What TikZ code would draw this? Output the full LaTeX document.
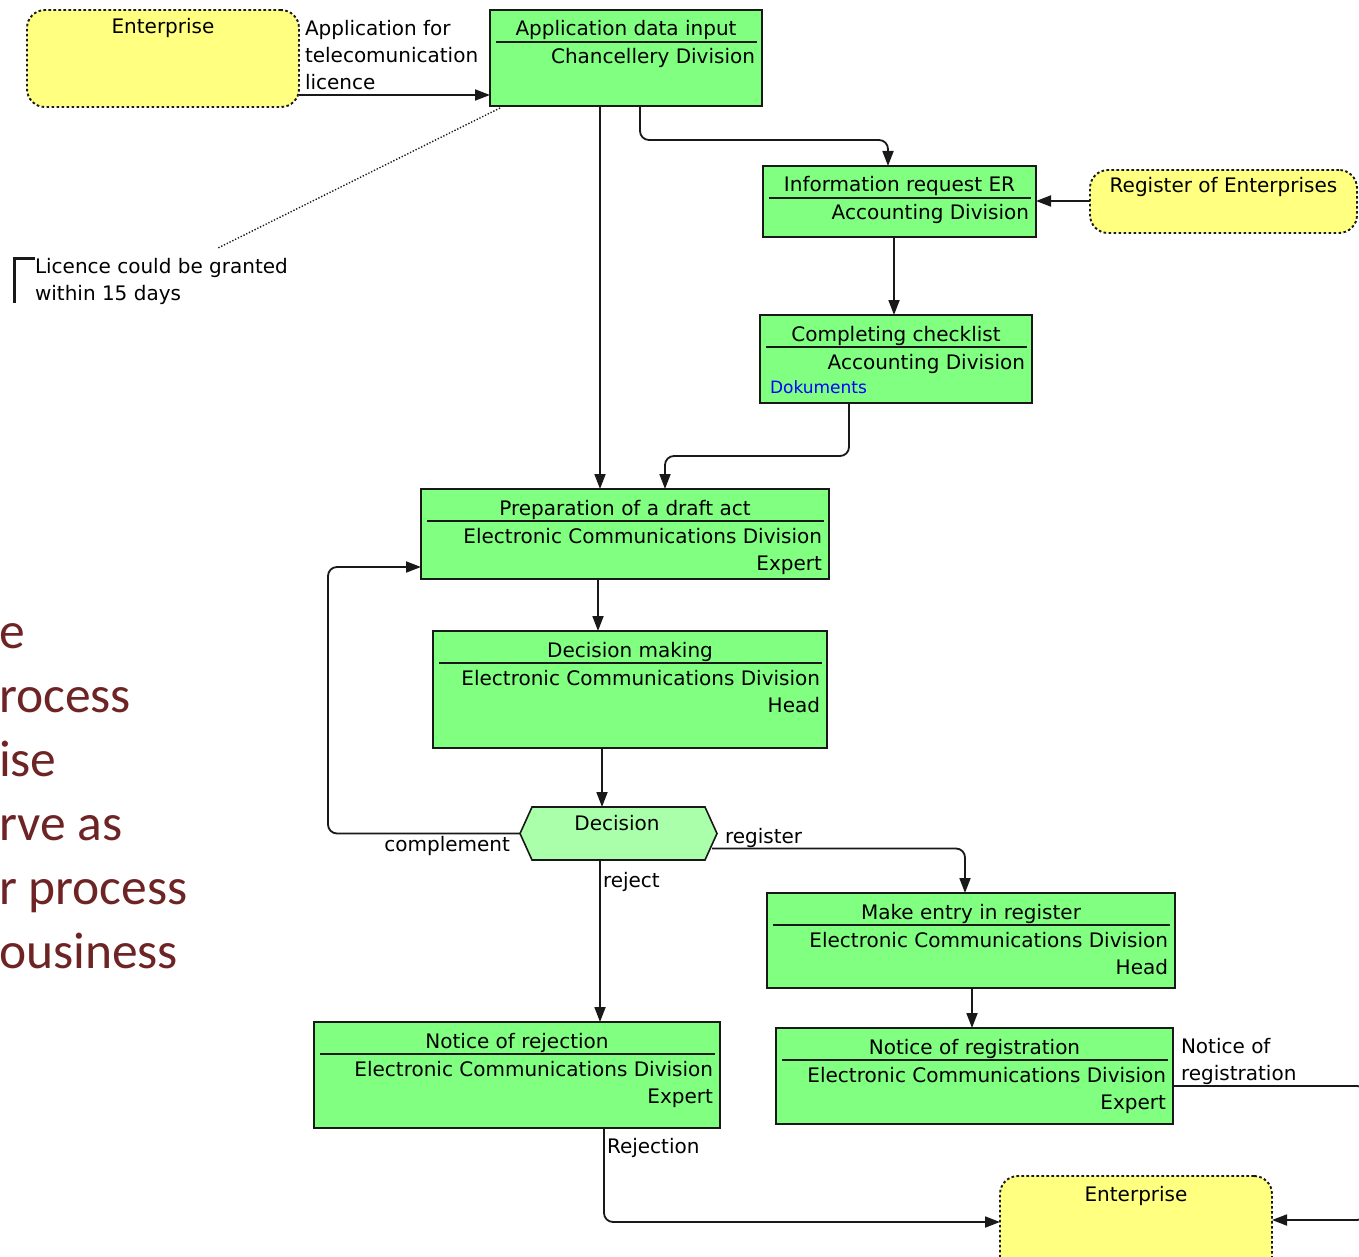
\documentclass[tikz,border=0pt]{standalone}
\usepackage{fontspec}
\setmainfont{DejaVu Sans}
\newfontfamily\slidefont{Carlito}
\usetikzlibrary{arrows.meta,calc}

\definecolor{actgreen}{RGB}{128,255,128}
\definecolor{decgreen}{RGB}{170,255,170}
\definecolor{extyellow}{RGB}{255,255,128}
\definecolor{edgecol}{RGB}{25,25,25}
\definecolor{dokblue}{RGB}{0,0,255}
\definecolor{slidered}{RGB}{110,36,36}

\tikzset{
  txt/.style={inner sep=0pt, outer sep=0pt, font=\fontsize{20}{24}\selectfont, text=black},
  smalltxt/.style={txt, font=\fontsize{17}{20}\selectfont},
  actbox/.style={draw=edgecol, fill=actgreen, line width=1.8pt, inner sep=0pt, outer sep=0pt},
  extbox/.style={draw=edgecol, fill=extyellow, line width=1.9pt, dash pattern=on 2.6pt off 2.4pt,
    rounded corners=18pt, inner sep=0pt, outer sep=0pt},
  decbox/.style={draw=none, inner sep=0pt, outer sep=0pt},
  flow/.style={draw=edgecol, line width=1.8pt, rounded corners=9pt,
    -{Triangle[length=15pt,width=11pt]}},
  titlerule/.style={draw=edgecol, line width=1.5pt},
  slide/.style={inner sep=0pt, outer sep=0pt, text=slidered,
    font=\slidefont\fontsize{51.5}{60}\selectfont},
  notedots/.style={draw=edgecol, line width=1.4pt, dash pattern=on 1.3pt off 1.8pt},
}

% activity box: name, x1, y1, x2, y2, title, unit, role
\newcommand\actnode[8]{%
  \node[actbox, anchor=north west, minimum width={#4-#2}, minimum height={#5-#3}] (#1) at (#2,#3) {};
  \node[txt, anchor=base] at ($(#1.north)+(0,26)$) {#6};
  \draw[titlerule] ($(#1.north west)+(6,32)$) -- ($(#1.north east)+(-5,32)$);
  \node[txt, anchor=base east] at ($(#1.north east)+(-7,54)$) {#7};
  \node[txt, anchor=base east] at ($(#1.north east)+(-7,81)$) {#8};
}

\begin{document}
\begin{tikzpicture}[x=1pt,y=-1pt]
\fill[white] (0,0) rectangle (1359,1257);
\useasboundingbox (0,0) rectangle (1359,1257);
\clip (0,0) rectangle (1359,1257);

% slide text cut by the left margin
\node[slide, anchor=base west] (s1) at (-1,648) {e};
\node[slide, anchor=base west] (s2) at (-1,712) {rocess};
\node[slide, anchor=base west] (s3) at (-1,776) {ise};
\node[slide, anchor=base west] (s4) at (-1,840) {rve as};
\node[slide, anchor=base west] (s5) at (-1,904) {r process};
\node[slide, anchor=base west] (s6) at (-1,968) {ousiness};

% external participants
\node[extbox, anchor=north west, minimum width=272, minimum height=97] (ent1) at (27,10) {};
\node[txt, anchor=base] at ($(ent1.north)+(0,24)$) {Enterprise};
\node[extbox, anchor=north west, minimum width=267, minimum height=63] (reg) at (1090,170) {};
\node[txt, anchor=base] at ($(reg.north)+(0,23)$) {Register of Enterprises};
\node[extbox, anchor=north west, minimum width=272, minimum height=100] (ent2) at (1000,1176) {};
\node[txt, anchor=base] at ($(ent2.north)+(0,25)$) {Enterprise};

% activities
\actnode{app}{490}{10}{762}{106}{Application data input}{Chancellery Division}{}
\actnode{info}{763}{166}{1036}{237}{Information request ER}{Accounting Division}{}
\actnode{chk}{760}{315}{1032}{403}{Completing checklist}{Accounting Division}{}
\node[smalltxt, text=dokblue, anchor=base west] at ($(chk.north west)+(10,78)$) {Dokuments};
\actnode{prep}{421}{489}{829}{579}{Preparation of a draft act}{Electronic Communications Division}{Expert}
\actnode{dmk}{433}{631}{827}{748}{Decision making}{Electronic Communications Division}{Head}
\actnode{mke}{767}{893}{1175}{988}{Make entry in register}{Electronic Communications Division}{Head}
\actnode{nreg}{776}{1028}{1173}{1124}{Notice of registration}{Electronic Communications Division}{Expert}
\actnode{nrej}{314}{1022}{720}{1128}{Notice of rejection}{Electronic Communications Division}{Expert}

% decision
\node[decbox, anchor=north west, minimum width=197, minimum height=53] (dec) at (520,807) {};
\draw[draw=edgecol, fill=decgreen, line width=1.6pt]
  ($(dec.north west)+(12,0)$) -- ($(dec.north east)+(-12,0)$) -- (dec.east)
  -- ($(dec.south east)+(-12,0)$) -- ($(dec.south west)+(12,0)$) -- (dec.west) -- cycle;
\node[txt, anchor=base] at (617,830) {Decision};

% annotation
\draw[edgecol, line width=3pt] (14,303) -- (14,259) -- (35,259);
\node[txt, anchor=base west] (note) at (35,273) {Licence could be granted};
\node[txt, anchor=base west] (note2) at (35,300) {within 15 days};
\coordinate (notept) at (218,248);
\draw[notedots] ($(app.south west)+(10,2)$) -- (notept);

% flows
\draw[flow] (ent1.east |- 0,95) -- (app.west |- 0,95);
\node[txt, anchor=base west] at (305,36) {Application for};
\node[txt, anchor=base west] at (305,63) {telecomunication};
\node[txt, anchor=base west] at (305,90) {licence};

\draw[flow] (app.south -| 640,0) |- (888,140) -- (info.north -| 888,0);
\draw[flow] (app.south -| 600,0) -- (prep.north -| 600,0);
\draw[flow] (reg.west |- 0,201) -- (info.east |- 0,201);
\draw[flow] (info.south -| 894,0) -- (chk.north -| 894,0);
\draw[flow] (chk.south -| 849,0) |- (665,456) -- (prep.north -| 665,0);
\draw[flow] (prep.south -| 598,0) -- (dmk.north -| 598,0);
\draw[flow] (dmk.south -| 602,0) -- (dec.north -| 602,0);

\draw[flow] (dec.west) -| (328,567) -- (prep.west |- 0,567);
\node[txt, anchor=base east] at (510,851) {complement};

\draw[flow] ($(dec.east)+(-5,15)$) -| (mke.north -| 965,0);
\node[txt, anchor=base west] at (725,843) {register};

\draw[flow] (dec.south -| 600,0) -- (nrej.north -| 600,0);
\node[txt, anchor=base west] at (603,887) {reject};

\draw[flow] (mke.south -| 972,0) -- (nreg.north -| 972,0);

\draw[flow] (nrej.south -| 604,0) |- (ent2.west |- 0,1222);
\node[txt, anchor=base west] at (607,1153) {Rejection};

\draw[flow] (nreg.east |- 0,1086) -- (1366,1086) -- (1366,1220) -- (ent2.east |- 0,1220);
\node[txt, anchor=base west] at (1181,1053) {Notice of};
\node[txt, anchor=base west] at (1181,1080) {registration};
\end{tikzpicture}
\end{document}
